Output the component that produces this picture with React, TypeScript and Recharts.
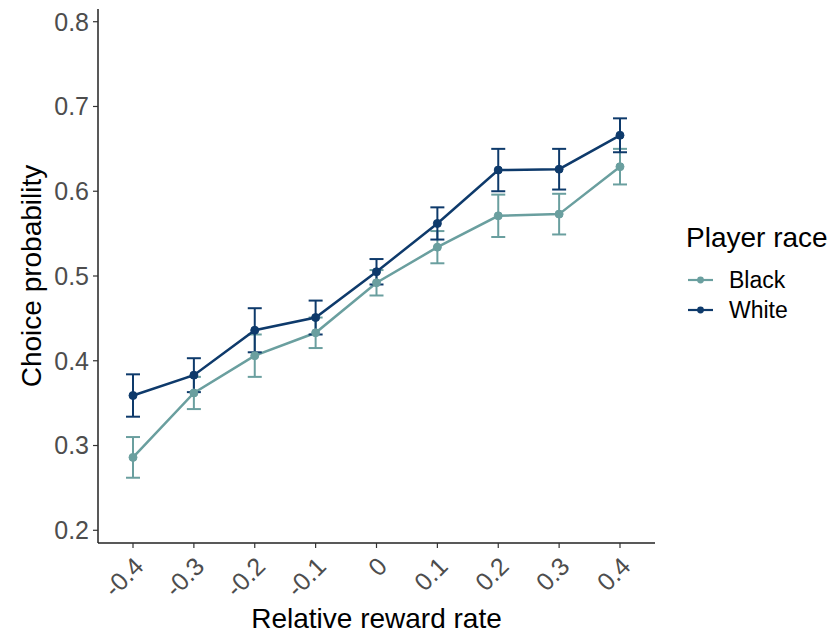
import React from 'react';
import { LineChart, Line, XAxis, YAxis, ErrorBar, Legend } from 'recharts';

const rewardRates = [-0.4, -0.3, -0.2, -0.1, 0, 0.1, 0.2, 0.3, 0.4];
const blackMeans = [0.286, 0.362, 0.406, 0.433, 0.492, 0.534, 0.571, 0.573, 0.629];
const blackErrs = [0.024, 0.019, 0.025, 0.018, 0.015, 0.019, 0.025, 0.024, 0.021];
const whiteMeans = [0.359, 0.383, 0.436, 0.451, 0.505, 0.562, 0.625, 0.626, 0.666];
const whiteErrs = [0.025, 0.02, 0.026, 0.02, 0.015, 0.019, 0.025, 0.024, 0.02];
const yTicks = [0.2, 0.3, 0.4, 0.5, 0.6, 0.7, 0.8];

const BLACK_COLOR = '#6a9f9f';
const WHITE_COLOR = '#0e3a6b';
const FONT = '"Liberation Sans", Arial, sans-serif';

const data = rewardRates.map((x, i) => ({
    x,
    black: blackMeans[i],
    blackErr: blackErrs[i],
    white: whiteMeans[i],
    whiteErr: whiteErrs[i],
}));

function XTick(props: any) {
    const { x, y, payload } = props
    const ax = x + 12
    const ay = y + 18
    const label = payload.value === 0 ? '0' : String(payload.value)
    return (
        <text x={ax} y={ay} transform={`rotate(-45, ${ax}, ${ay})`} textAnchor="end"
            fill="#4d4d4d" fontSize={25} fontFamily={FONT}>
            {label}
        </text>
    )
}

function LegendBox() {
    const items = [
        { name: 'Black', color: BLACK_COLOR },
        { name: 'White', color: WHITE_COLOR },
    ]
    return (
        <div style={{ fontFamily: FONT }}>
            <div style={{ fontSize: 28, lineHeight: '32px', color: '#000', marginBottom: 11, whiteSpace: 'nowrap' }}>Player race</div>
            {items.map(it => (
                <div key={it.name} style={{ display: 'flex', alignItems: 'center', height: 30 }}>
                    <svg width={28} height={12} style={{ marginRight: 15 }}>
                        <line x1={2} y1={6} x2={27} y2={6} stroke={it.color} strokeWidth={2.2} />
                        <circle cx={14.5} cy={6} r={3.4} fill={it.color} />
                    </svg>
                    <span style={{ fontSize: 23, lineHeight: '30px', color: '#000' }}>{it.name}</span>
                </div>
            ))}
        </div>
    )
}

export default function App() {
    return (
        <div style={{ position: 'absolute', left: 0, top: 0, background: '#fff' }}>
            <LineChart width={833} height={635} data={data}
                margin={{ top: 9, right: 178, bottom: 0, left: 0 }}>
                <XAxis dataKey="x" type="number" domain={[-0.4575, 0.4575]} ticks={rewardRates}
                    height={92} tick={<XTick />} tickSize={5} interval={0}
                    axisLine={{ stroke: '#222', strokeWidth: 1.5 }} tickLine={{ stroke: '#333', strokeWidth: 1.2 }}
                    label={{ value: 'Relative reward rate', position: 'insideBottom', offset: 7,
                        fill: '#000', fontSize: 28, fontFamily: FONT }} />
                <YAxis type="number" domain={[0.185, 0.815]} ticks={yTicks} width={98}
                    tickSize={5} tickMargin={4}
                    tick={{ fill: '#4d4d4d', fontSize: 25, fontFamily: FONT }}
                    axisLine={{ stroke: '#222', strokeWidth: 1.5 }} tickLine={{ stroke: '#333', strokeWidth: 1.2 }}
                    label={{ value: 'Choice probability', angle: -90, position: 'insideLeft', offset: 31,
                        style: { textAnchor: 'middle' }, fill: '#000', fontSize: 28, fontFamily: FONT }} />
                <Legend content={<LegendBox />} layout="vertical" verticalAlign="middle" align="center"
                    wrapperStyle={{ left: 686, top: 222, width: 147, height: 110 }} />
                <Line dataKey="black" name="Black" stroke={BLACK_COLOR} strokeWidth={2.5}
                    dot={{ r: 4, fill: BLACK_COLOR, stroke: BLACK_COLOR, strokeWidth: 1 }}
                    isAnimationActive={false}>
                    <ErrorBar dataKey="blackErr" direction="y" width={7} stroke={BLACK_COLOR} strokeWidth={2} />
                </Line>
                <Line dataKey="white" name="White" stroke={WHITE_COLOR} strokeWidth={2.5}
                    dot={{ r: 4, fill: WHITE_COLOR, stroke: WHITE_COLOR, strokeWidth: 1 }}
                    isAnimationActive={false}>
                    <ErrorBar dataKey="whiteErr" direction="y" width={7} stroke={WHITE_COLOR} strokeWidth={2} />
                </Line>
            </LineChart>
        </div>
    )
}
